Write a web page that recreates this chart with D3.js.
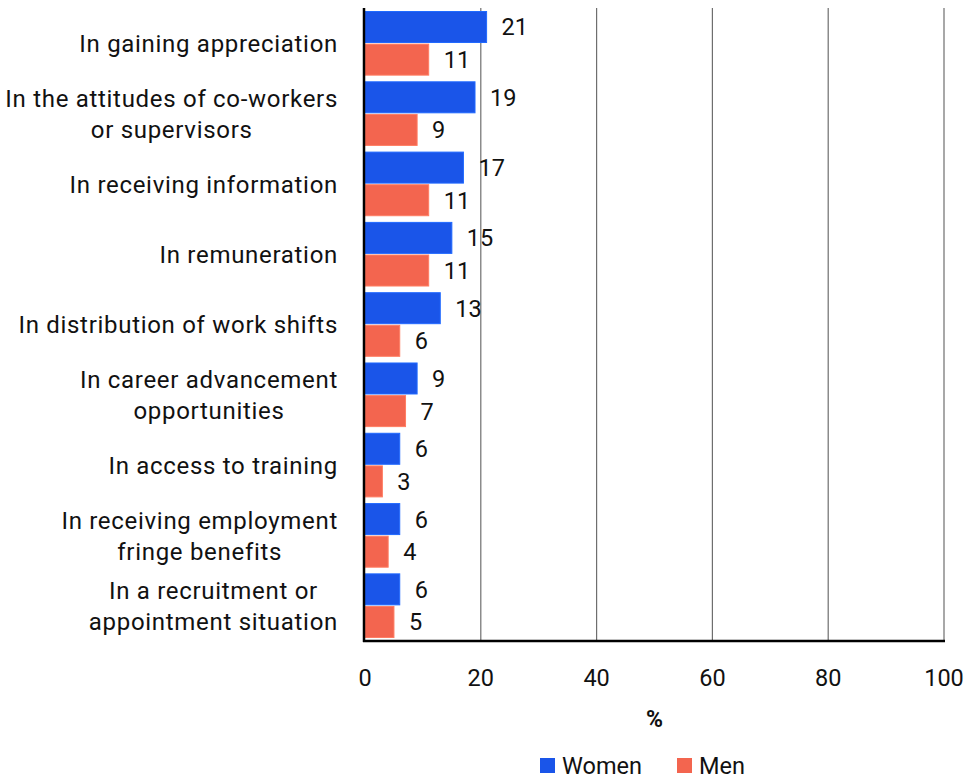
<!DOCTYPE html>
<html>
<head>
<meta charset="utf-8">
<script src="https://cdn.jsdelivr.net/npm/d3@7"></script>
<style>
  html, body { margin: 0; padding: 0; background: #fff; }
  svg { display: block; font-family: Roboto, "Noto Sans", sans-serif; }
</style>
</head>
<body>
<svg id="chart" width="969" height="779"></svg>
<script>
// Categories, top to bottom; "\n" marks a line break in the label
const categories = [
  "In gaining appreciation",
  "In the attitudes of co-workers\nor supervisors",
  "In receiving information",
  "In remuneration",
  "In distribution of work shifts",
  "In career advancement\nopportunities",
  "In access to training",
  "In receiving employment\nfringe benefits",
  "In a recruitment or\nappointment situation"
];
const women = [21, 19, 17, 15, 13, 9, 6, 6, 6];
const men   = [11, 9, 11, 11, 6, 7, 3, 4, 5];
const seriesNames = ["Women", "Men"];
const seriesColors = ["#1a55e9", "#f3654f"];
const xTicks = [0, 20, 40, 60, 80, 100];
const axisTitle = "%";

const svg = d3.select("#chart");
const margin = { left: 365, right: 25, top: 8, bottom: 138 };
const W = 969, H = 779;
const plotBottom = H - margin.bottom; // 641

const x = d3.scaleLinear().domain([0, 100]).range([margin.left, 944]);
const y = d3.scaleBand().domain(categories).range([margin.top, plotBottom])
  .paddingInner(0.095).paddingOuter(0.05);
const ySub = d3.scaleBand().domain(seriesNames).range([0, y.bandwidth()]).paddingInner(0.05);

// vertical gridlines
svg.append("g")
  .selectAll("line")
  .data(xTicks.filter(t => t > 0))
  .join("line")
  .attr("x1", d => x(d)).attr("x2", d => x(d))
  .attr("y1", margin.top).attr("y2", plotBottom)
  .attr("stroke", "#6e6e6e").attr("stroke-width", 1.2);

// bars
const rows = categories.map((c, i) => ({ cat: c, vals: [women[i], men[i]] }));
const groups = svg.append("g").selectAll("g")
  .data(rows).join("g")
  .attr("transform", d => `translate(0,${y(d.cat)})`);

groups.selectAll("rect")
  .data(d => d.vals.map((v, k) => ({ v, k })))
  .join("rect")
  .attr("x", x(0))
  .attr("y", d => ySub(seriesNames[d.k]))
  .attr("width", d => x(d.v) - x(0))
  .attr("height", ySub.bandwidth())
  .attr("fill", d => seriesColors[d.k])
  .attr("stroke", d => d3.color(seriesColors[d.k]).brighter(0.6))
  .attr("stroke-width", 1);

// value labels
groups.selectAll("text")
  .data(d => d.vals.map((v, k) => ({ v, k })))
  .join("text")
  .attr("x", d => x(d.v) + 15)
  .attr("y", d => ySub(seriesNames[d.k]) + ySub.bandwidth() / 2)
  .attr("dy", "0.36em")
  .attr("font-size", 23.5)
  .attr("fill", "#111")
  .text(d => d.v);

// axes lines
svg.append("line")
  .attr("x1", x(0) - 1).attr("x2", x(0) - 1)
  .attr("y1", margin.top).attr("y2", plotBottom + 1)
  .attr("stroke", "#000").attr("stroke-width", 2.5);
svg.append("line")
  .attr("x1", x(0) - 2).attr("x2", x(100) + 1)
  .attr("y1", plotBottom).attr("y2", plotBottom)
  .attr("stroke", "#000").attr("stroke-width", 2.5);

// x tick labels
svg.append("g")
  .selectAll("text")
  .data(xTicks)
  .join("text")
  .attr("x", d => x(d))
  .attr("y", 678)
  .attr("dy", "0.36em")
  .attr("text-anchor", "middle")
  .attr("font-size", 23.5)
  .attr("fill", "#111")
  .text(d => d);

// axis title
svg.append("text")
  .attr("x", x(50))
  .attr("y", 719)
  .attr("dy", "0.36em")
  .attr("text-anchor", "middle")
  .attr("font-size", 23)
  .attr("font-weight", "bold")
  .attr("fill", "#111")
  .text(axisTitle);

// category labels: lines centred within a right-aligned block
const labelRight = 338;
const lineH = 31;
const catG = svg.append("g")
  .attr("font-size", 24)
  .attr("letter-spacing", 0.7)
  .attr("fill", "#111");
categories.forEach(c => {
  const lines = c.split("\n");
  const cy = y(c) + y.bandwidth() / 2;
  const t = catG.append("text").attr("text-anchor", "middle");
  const spans = lines.map((ln, i) =>
    t.append("tspan")
      .attr("y", cy + (i - (lines.length - 1) / 2) * lineH)
      .attr("dy", "0.36em")
      .text(ln));
  const maxW = d3.max(spans, s => s.node().getComputedTextLength());
  spans.forEach(s => s.attr("x", labelRight - maxW / 2));
});

// legend
const legend = svg.append("g");
const legendItems = [{ x: 540 }, { x: 677 }];
seriesNames.forEach((name, k) => {
  const g = legend.append("g").attr("transform", `translate(${legendItems[k].x},758)`);
  g.append("rect").attr("width", 15).attr("height", 15).attr("fill", seriesColors[k]);
  g.append("text").attr("x", 22).attr("y", 7.5).attr("dy", "0.36em")
    .attr("font-size", 23.5).attr("fill", "#111").text(name);
});
</script>
</body>
</html>
